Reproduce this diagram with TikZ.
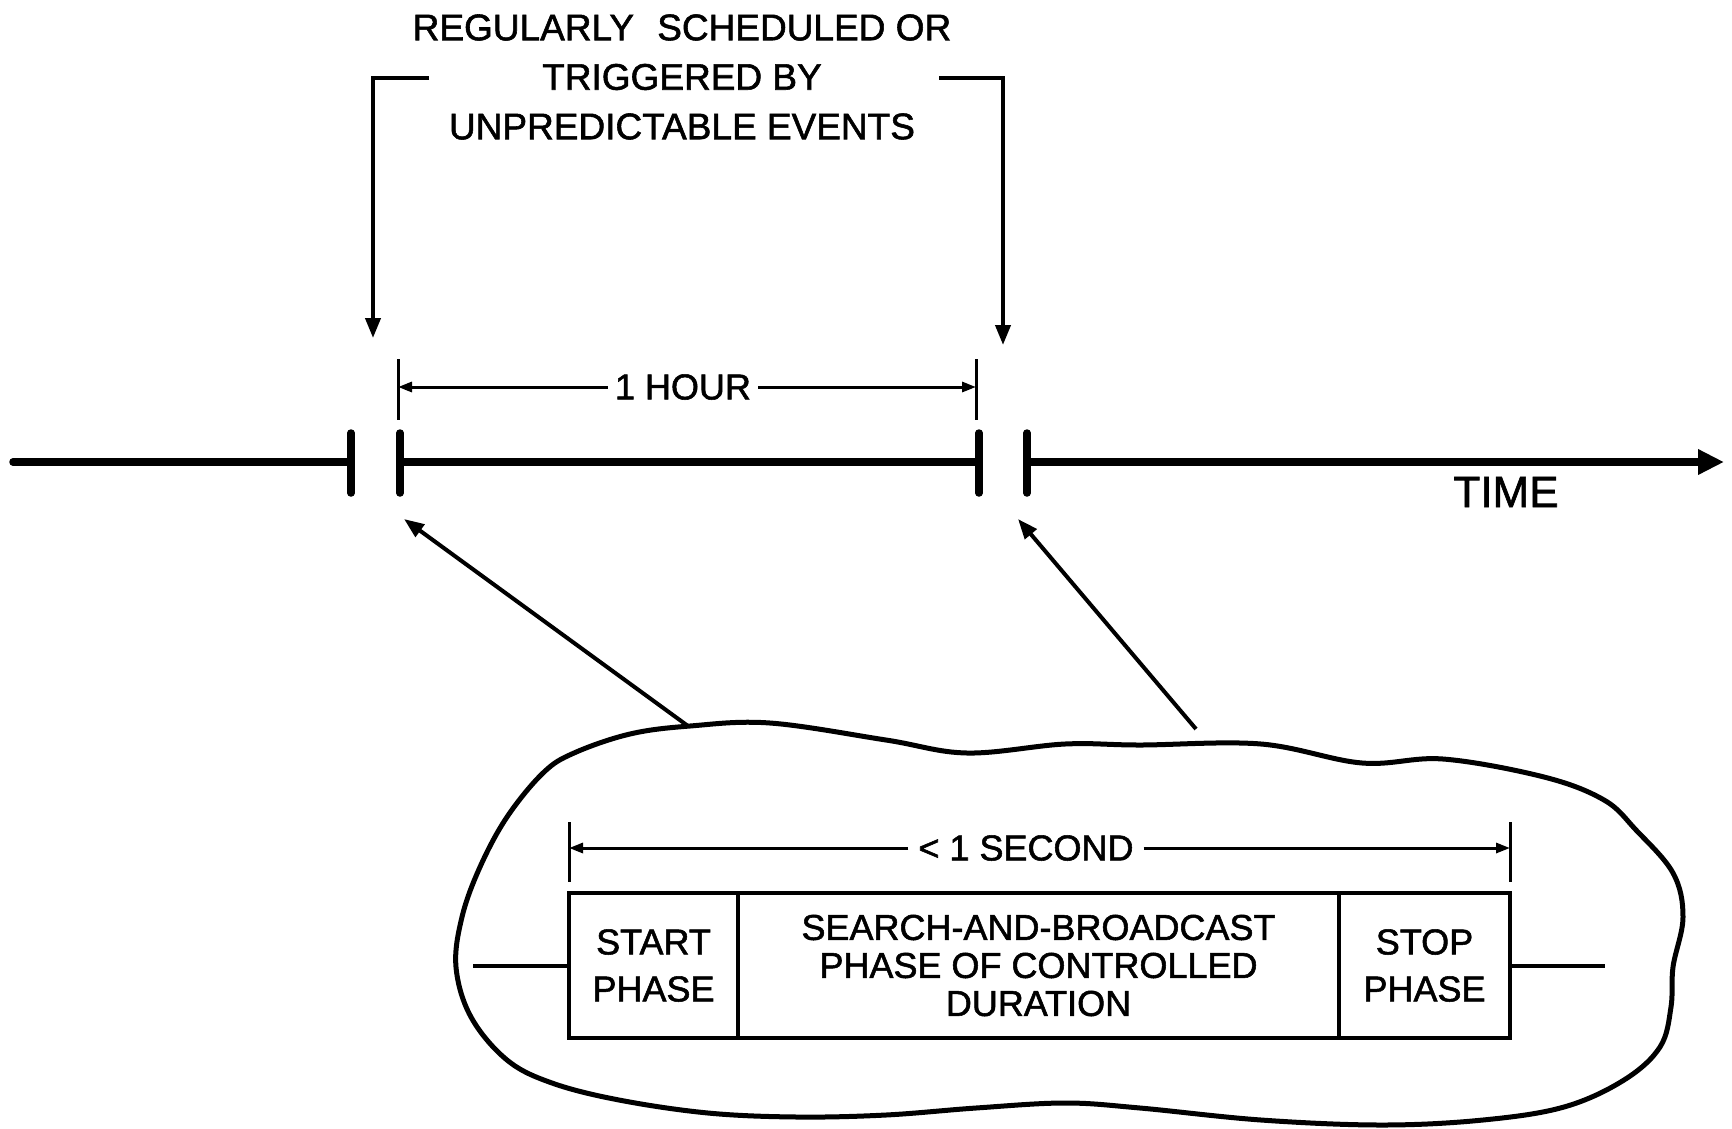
\documentclass[tikz,border=0pt]{standalone}
\usepackage{fontspec}
\setmainfont{Liberation Sans}[UprightFeatures={FakeBold=1.5}]
\usetikzlibrary{arrows.meta}
\begin{document}
\begin{tikzpicture}[x=1pt,y=-1pt,
  axisline/.style={line width=7.5pt},
  tickmark/.style={line width=7.5pt,line cap=round},
  medline/.style={line width=4pt},
  thinline/.style={line width=3pt},
  bigtip/.style={-{Triangle[length=20pt,width=15pt]}},
  dimtip/.style={-{Triangle[length=14pt,width=10pt]}},
  lbl/.style={font=\fontsize{36}{38}\selectfont,inner sep=8pt,align=center},
  cell/.style={draw,line width=4pt,minimum height=145pt,inner sep=0pt,align=center,
               font=\fontsize{36}{38}\selectfont}
]
\useasboundingbox (0,0) rectangle (1732,1128);

% ---------- top label and bracket ----------
\node[lbl,font=\fontsize{37}{49.5}\selectfont] (top) at (682,77)
  {REGULARLY\hspace{0.35em} SCHEDULED OR\\TRIGGERED BY\\UNPREDICTABLE EVENTS};
\coordinate (bl1) at (429,78);
\coordinate (bl2) at (373,78);
\coordinate (bl3) at (373,338);
\coordinate (br1) at (939,78);
\coordinate (br2) at (1003,78);
\coordinate (br3) at (1003,345);
\draw[medline,bigtip] (bl1) -- (bl2) -- (bl3);
\draw[medline,bigtip] (br1) -- (br2) -- (br3);

% ---------- time axis ----------
\coordinate (a0) at (13,462);
\coordinate (t1) at (351,462);
\coordinate (t2) at (400,462);
\coordinate (t3) at (979,462);
\coordinate (t4) at (1027,462);
\coordinate (aend) at (1724,462);
\draw[axisline,line cap=round] (a0) -- (t1);
\draw[axisline] (t2) -- (t3);
\draw[axisline,-{Triangle[length=26pt,width=24pt]}] (t4) -- (aend);
\foreach \t in {t1,t2,t3,t4}
  \draw[tickmark] ([yshift=-31pt]\t) -- ([yshift=29pt]\t);
\node[lbl,font=\fontsize{44}{46}\selectfont] (time) at (1506,492) {TIME};

% ---------- 1 hour dimension ----------
\coordinate (hl1) at (398,359);
\coordinate (hl2) at (398,420);
\coordinate (hr1) at (976,359);
\coordinate (hr2) at (976,420);
\draw[thinline] (hl1) -- (hl2);
\draw[thinline] (hr1) -- (hr2);
\node[lbl,inner sep=7pt] (hour) at (683,387) {1 HOUR};
\coordinate (hla) at (398,387);
\coordinate (hra) at (976,387);
\draw[thinline,dimtip] (hour.west) -- (hla);
\draw[thinline,dimtip] (hour.east) -- (hra);

% ---------- blob ----------
\draw[line width=5pt] plot[smooth cycle,tension=0.6] coordinates {
 (574,753) (630,734) (690,726) (770,723) (886,740) (967,753) (1065,744)
 (1140,745) (1261,744) (1362,763) (1443,759) (1544,777) (1604,800)
 (1636,830) (1673,873) (1683,917) (1673,967) (1671,1007) (1660,1047)
 (1624,1080) (1564,1107) (1483,1120) (1382,1125) (1261,1120) (1140,1108)
 (1065,1103) (976,1108) (886,1115) (797,1117) (708,1113) (619,1100)
 (552,1083) (507,1060) (471,1017) (456,967) (462,917) (480,867)
 (507,817) (543,773)};

% ---------- pointer arrows ----------
\coordinate (p1s) at (688,726);
\coordinate (p1e) at (404,519);
\coordinate (p2s) at (1196,729);
\coordinate (p2e) at (1018,519);
\draw[medline,bigtip] (p1s) -- (p1e);
\draw[medline,bigtip] (p2s) -- (p2e);

% ---------- phase boxes ----------
\node[cell,minimum width=169pt] (startcell) at (653.5,965.5)
  {START\\[9pt]PHASE};
\node[cell,minimum width=601pt] (midcell) at (1038.5,965.5)
  {SEARCH-AND-BROADCAST\\PHASE OF CONTROLLED\\DURATION};
\node[cell,minimum width=171pt] (stopcell) at (1424.5,965.5)
  {STOP\\[9pt]PHASE};
\coordinate (lside) at (473,965.5);
\coordinate (rside) at (1605,965.5);
\draw[medline] (lside) -- (startcell.west);
\draw[medline] (stopcell.east) -- (rside);

% ---------- < 1 second dimension ----------
\coordinate (sl1) at (569,822);
\coordinate (sl2) at (569,882);
\coordinate (sr1) at (1510,822);
\coordinate (sr2) at (1510,882);
\draw[thinline] (sl1) -- (sl2);
\draw[thinline] (sr1) -- (sr2);
\node[lbl,inner sep=10pt] (sec) at (1026,848) {< 1 SECOND};
\coordinate (sla) at (569,848);
\coordinate (sra) at (1510,848);
\draw[thinline,dimtip] (sec.west) -- (sla);
\draw[thinline,dimtip] (sec.east) -- (sra);
\end{tikzpicture}
\end{document}
